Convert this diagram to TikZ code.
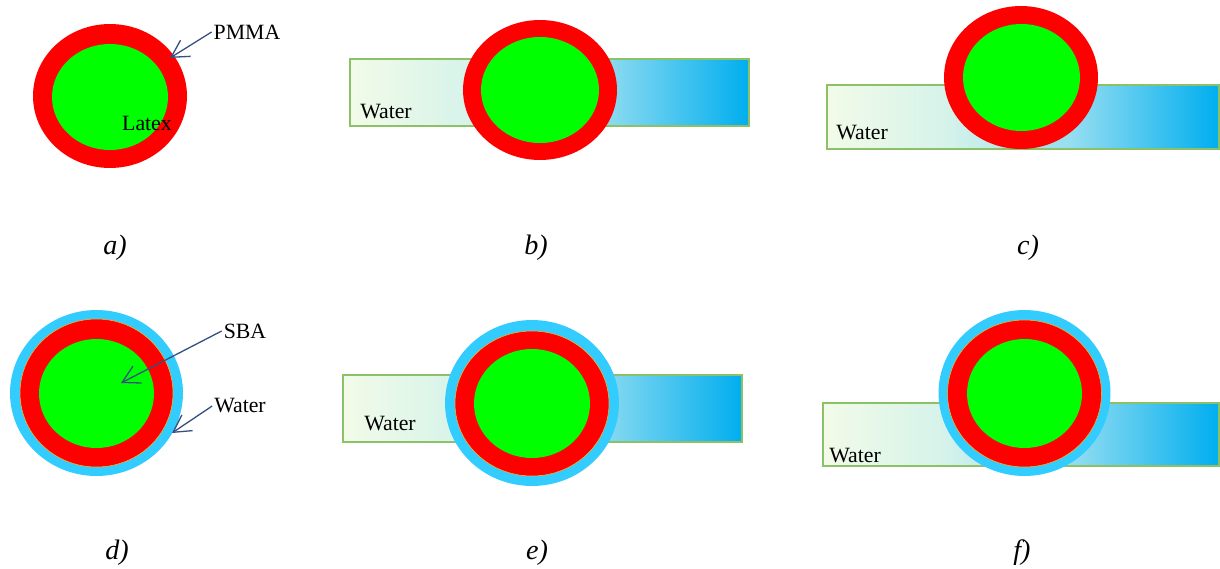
\documentclass[tikz,border=0pt]{standalone}
\usepackage{fontspec}
\setmainfont{Liberation Serif}
\usepackage{xcolor}
\usetikzlibrary{shapes.geometric, arrows.meta, positioning}

\definecolor{shellred}{RGB}{255,0,0}
\definecolor{latexgreen}{RGB}{0,255,0}
\definecolor{filmcyan}{RGB}{51,204,255}
\definecolor{filmedge}{RGB}{240,190,40}
\definecolor{baredge}{RGB}{140,193,104}
\definecolor{pointerblue}{RGB}{55,80,130}
\definecolor{waterA}{RGB}{242,251,232}
\definecolor{waterB}{RGB}{214,243,234}
\definecolor{waterC}{RGB}{150,222,240}
\definecolor{waterD}{RGB}{0,174,239}

\pgfdeclarehorizontalshading{waterfade}{100bp}{
  color(0bp)=(waterA); color(25bp)=(waterA); color(40bp)=(waterB);
  color(56bp)=(waterC); color(75bp)=(waterD); color(100bp)=(waterD)}

\tikzset{
  waterbar/.style={
    rectangle, draw=baredge, line width=0.8pt, shade, shading=waterfade,
    inner sep=0pt, minimum width=7.98cm, minimum height=1.34cm
  },
  filmlayer/.style={
    ellipse, fill=filmcyan, inner sep=0pt,
    minimum width=3.46cm, minimum height=3.32cm
  },
  shelllayer/.style={
    ellipse, fill=shellred, inner sep=0pt,
    minimum width=3.08cm, minimum height=2.88cm
  },
  corelayer/.style={
    ellipse, fill=latexgreen, inner sep=0pt,
    minimum width=2.32cm, minimum height=2.14cm
  },
  tagtext/.style={
    font=\fontsize{12.4}{14}\selectfont, inner sep=1pt
  },
  panellabel/.style={
    font=\fontsize{16}{18}\selectfont\itshape, inner sep=0pt
  },
  pointerarrow/.style={
    -{Straight Barb[length=3.4mm, width=3.8mm]}, draw=pointerblue, line width=0.75pt
  },
}

\begin{document}
\begin{tikzpicture}[x=0.02cm, y=-0.02cm]
  \useasboundingbox (0,0) rectangle (1220,568);

  % === a) bare particle ===
  \node[shelllayer] (shellA) at (110,96) {};
  \node[corelayer, minimum width=2.32cm, minimum height=2.12cm] (coreA) at (110,97) {};
  \node[tagtext] (latexA) at (147,123) {Latex};
  \node[tagtext] (pmma) at (247,32) {PMMA};
  \coordinate (pmmaTip) at (170,58);
  \draw[pointerarrow] (pmma.west) -- (pmmaTip);
  \node[panellabel] (labA) at (115,248) {a)};

  % === b) particle at the water surface ===
  \node[waterbar] (barB) at (549.5,92.5) {};
  \node[tagtext] (waterB) at (386,112) {Water};
  \node[shelllayer, minimum height=2.80cm] (shellB) at (540,90) {};
  \node[corelayer, minimum width=2.36cm, minimum height=2.12cm] (coreB) at (540,90) {};
  \node[panellabel] (labB) at (536,248) {b)};

  % === c) particle lifted out ===
  \node[waterbar, minimum width=7.84cm, minimum height=1.28cm] (barC) at (1023,117) {};
  \node[tagtext] (waterC) at (862,133) {Water};
  \node[shelllayer, minimum height=2.86cm] (shellC) at (1021,77.5) {};
  \node[corelayer, minimum width=2.34cm] (coreC) at (1021.5,77.5) {};
  \node[panellabel] (labC) at (1028,248) {c)};

  % === d) particle with SBA and water film ===
  \node[filmlayer] (filmD) at (96.5,393) {};
  \node[shelllayer, draw=filmedge, line width=0.3pt, minimum width=3.06cm, minimum height=2.96cm] (shellD) at (96.5,393) {};
  \node[corelayer, minimum width=2.30cm, minimum height=2.18cm] (coreD) at (96.5,393.5) {};
  \node[tagtext] (sba) at (245,331) {SBA};
  \coordinate (sbaTip) at (121,383);
  \draw[pointerarrow] (sba.west) -- (sbaTip);
  \node[tagtext] (waterD) at (240,406) {Water};
  \coordinate (filmTip) at (172,433);
  \draw[pointerarrow] (waterD.west) -- (filmTip);
  \node[panellabel] (labD) at (117,553) {d)};

  % === e) coated particle at the water surface ===
  \node[waterbar] (barE) at (542.5,408.5) {};
  \node[tagtext] (waterE) at (390,424) {Water};
  \node[filmlayer, minimum width=3.48cm] (filmE) at (532,403) {};
  \node[shelllayer, draw=filmedge, line width=0.3pt, minimum height=2.90cm] (shellE) at (532,403.5) {};
  \node[corelayer, minimum height=2.18cm] (coreE) at (532,403.5) {};
  \node[panellabel] (labE) at (537,553) {e)};

  % === f) coated particle lifted out ===
  \node[waterbar, minimum width=7.92cm, minimum height=1.26cm] (barF) at (1021,434.5) {};
  \node[tagtext] (waterF) at (855,456) {Water};
  \node[filmlayer, minimum width=3.44cm] (filmF) at (1024.5,393) {};
  \node[shelllayer, draw=filmedge, line width=0.3pt, minimum height=2.94cm] (shellF) at (1024.5,393.5) {};
  \node[corelayer, minimum width=2.30cm, minimum height=2.18cm] (coreF) at (1024.5,393.5) {};
  \node[panellabel] (labF) at (1022,553) {f)};

\end{tikzpicture}
\end{document}
